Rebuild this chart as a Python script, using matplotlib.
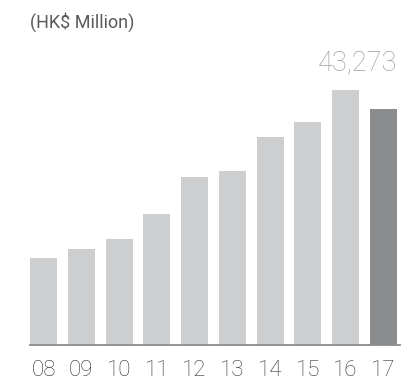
import matplotlib.pyplot as plt

# Yearly figures, HK$ million
years = ['08', '09', '10', '11', '12', '13', '14', '15', '16', '17']
values = [15950, 17600, 19450, 24000, 30800, 31900, 38200, 40900, 46750, 43273]

bar_colors = ['#cdcecf'] * (len(years) - 1) + ['#8a8c8e']

plt.rcParams['font.family'] = ['Roboto', 'DejaVu Sans']

fig = plt.figure(figsize=(4.03, 3.80), dpi=100)
ax = fig.add_axes([30 / 403, 35 / 380, 370 / 403, 272.6 / 380])

x = list(range(len(years)))
ax.bar(x, values, width=0.715, color=bar_colors, zorder=2)

ax.set_xlim(-0.357, 9.44)
ax.set_ylim(0, 50000)

# the baseline
for side in ['top', 'right', 'left']:
    ax.spines[side].set_visible(False)
ax.spines['bottom'].set_color('#8a8c8e')
ax.spines['bottom'].set_linewidth(1.3)
ax.set_yticks([])

ax.set_xticks(x)
ax.set_xticklabels(years, fontsize=16, color='#333333', fontweight='light')
ax.tick_params(axis='x', length=0, pad=11)

# value label for the latest year
ax.annotate(f'{values[-1]:,}', xy=(x[-1] + 0.715 / 2, values[-1]),
            xytext=(0, 28), textcoords='offset points',
            ha='right', va='baseline', fontsize=19.5, color='#a0a0a0',
            fontweight='light')

fig.text(30 / 403, 1 - 28 / 380, '(HK$ Million)', fontsize=13, color='#5a5a5a',
         ha='left', va='baseline')

fig.savefig('out.png', dpi=100)
